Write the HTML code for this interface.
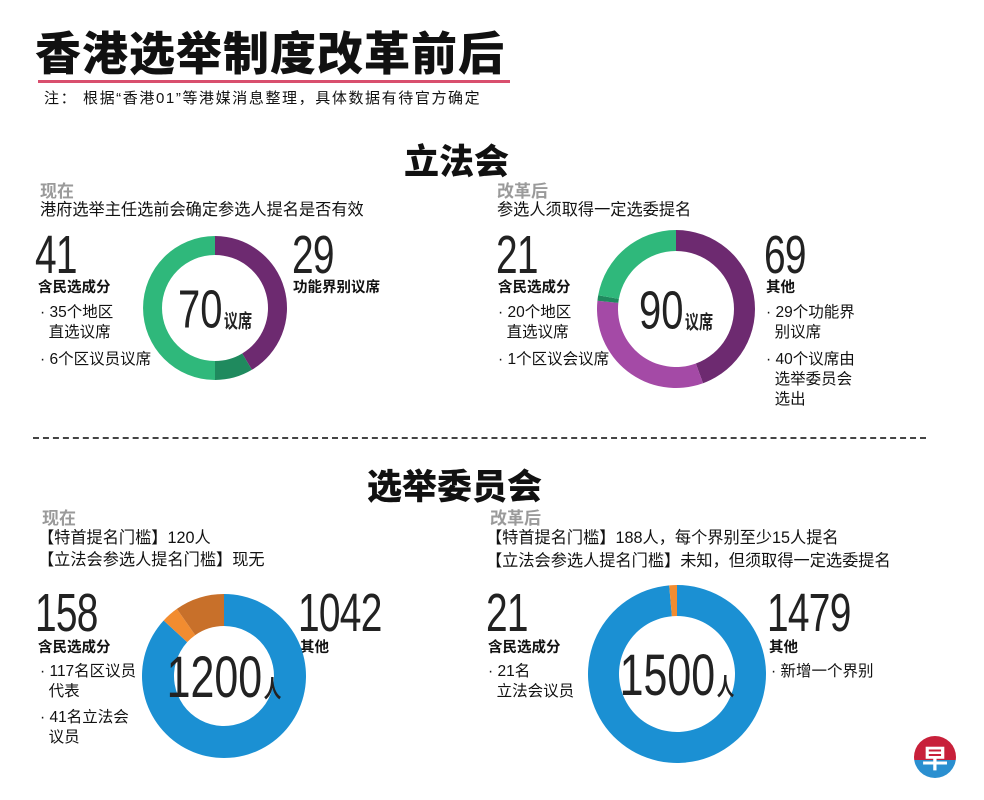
<!DOCTYPE html>
<html><head><meta charset="utf-8">
<style>
body{margin:0;background:#fff;width:984px;height:800px;overflow:hidden;position:relative;font-family:"Liberation Sans","Noto Sans CJK SC",sans-serif;color:#111}
.a{position:absolute;white-space:nowrap}
.t{font-size:15.5px;line-height:20px}
.d{font-size:16.2px;line-height:20px}
.b{font-weight:bold;font-size:14.5px}
.g{color:#9a9a9a;font-weight:bold;font-size:17px}
.n{font-size:54px;line-height:58px;font-weight:normal;transform:scaleX(0.72);transform-origin:left top;letter-spacing:-1px;color:#222}
.h{font-weight:900;font-size:35px;}
</style></head><body>
<div class="a" style="left:35px;top:18px;font-size:46px;font-weight:900;letter-spacing:1px">香港选举制度改革前后</div>
<div class="a" style="left:38px;top:80px;width:472px;height:3px;background:#d94f6e"></div>
<div class="a t" style="left:44px;top:89px;font-size:15px;letter-spacing:1.6px">注： 根据“香港01”等港媒消息整理，具体数据有待官方确定</div>

<div class="a h" style="left:404px;top:134px">立法会</div>
<div class="a g" style="left:40px;top:177px">现在</div>
<div class="a d" style="left:40px;top:200px">港府选举主任选前会确定参选人提名是否有效</div>
<div class="a n" style="left:35px;top:226px">41</div>
<div class="a b" style="left:38px;top:276px">含民选成分</div>
<div class="a t" style="left:40px;top:303px">· 35个地区<br>&nbsp;&nbsp;直选议席</div>
<div class="a t" style="left:40px;top:350px">· 6个区议员议席</div>
<div class="a n" style="left:292px;top:226px">29</div>
<div class="a b" style="left:293px;top:276px">功能界别议席</div>

<div class="a g" style="left:497px;top:177px">改革后</div>
<div class="a d" style="left:497px;top:200px">参选人须取得一定选委提名</div>
<div class="a n" style="left:496px;top:226px">21</div>
<div class="a b" style="left:498px;top:276px">含民选成分</div>
<div class="a t" style="left:498px;top:303px">· 20个地区<br>&nbsp;&nbsp;直选议席</div>
<div class="a t" style="left:498px;top:350px">· 1个区议会议席</div>
<div class="a n" style="left:764px;top:226px">69</div>
<div class="a b" style="left:766px;top:276px">其他</div>
<div class="a t" style="left:766px;top:303px">· 29个功能界<br>&nbsp;&nbsp;别议席</div>
<div class="a t" style="left:766px;top:350px">· 40个议席由<br>&nbsp;&nbsp;选举委员会<br>&nbsp;&nbsp;选出</div>

<div class="a" style="left:33px;top:437px;width:893px;border-top:2px dashed #444"></div>

<div class="a h" style="left:367px;top:459px">选举委员会</div>
<div class="a g" style="left:42px;top:504px">现在</div>
<div class="a d" style="left:38px;top:528px">【特首提名门槛】120人</div>
<div class="a d" style="left:38px;top:550px">【立法会参选人提名门槛】现无</div>
<div class="a n" style="left:35px;top:584px">158</div>
<div class="a b" style="left:38px;top:636px">含民选成分</div>
<div class="a t" style="left:40px;top:662px">· 117名区议员<br>&nbsp;&nbsp;代表</div>
<div class="a t" style="left:40px;top:708px">· 41名立法会<br>&nbsp;&nbsp;议员</div>
<div class="a n" style="left:298px;top:584px">1042</div>
<div class="a b" style="left:300px;top:636px">其他</div>

<div class="a g" style="left:490px;top:504px">改革后</div>
<div class="a d" style="left:486px;top:528px">【特首提名门槛】188人，每个界别至少15人提名</div>
<div class="a d" style="left:486px;top:551px">【立法会参选人提名门槛】未知，但须取得一定选委提名</div>
<div class="a n" style="left:486px;top:584px">21</div>
<div class="a b" style="left:488px;top:636px">含民选成分</div>
<div class="a t" style="left:488px;top:662px">· 21名<br>&nbsp;&nbsp;立法会议员</div>
<div class="a n" style="left:767px;top:584px">1479</div>
<div class="a b" style="left:769px;top:636px">其他</div>
<div class="a t" style="left:771px;top:662px">· 新增一个界别</div>

<svg class="a" id="chart" style="left:0;top:0" width="984" height="800">
  <g>
    <clipPath id="lc"><circle cx="935" cy="757" r="21"/></clipPath>
    <g clip-path="url(#lc)"><rect x="910" y="734" width="50" height="26" fill="#c8203a"/><rect x="910" y="760" width="50" height="25" fill="#2a8fd0"/></g>
    <text x="935" y="768" text-anchor="middle" font-size="26" font-weight="bold" fill="#fff" font-family="Liberation Sans, Noto Sans CJK SC, sans-serif">早</text>
  </g>
</svg>
<script>
const legcoNowValues=[29,6,35];
const legcoNowColors=["#6d2a70","#1f8a5e","#2fb87b"];
const legcoAfterValues=[40,29,1,20];
const legcoAfterColors=["#6d2a70","#a44aa6","#1f8a5e","#2fb87b"];
const ecNowValues=[1042,41,117];
const ecNowColors=["#1b90d3","#f28c30","#c8702a"];
const ecAfterValues=[1479,21];
const ecAfterColors=["#1b90d3","#f28c30"];
const centerNumbers=["70","90","1200","1500"];
const centerUnits=["议席","议席","人","人"];
const NS="http://www.w3.org/2000/svg";
const svg=document.getElementById('chart');
function arc(cx,cy,r,r0,a0,a1){
  const p=(r,a)=>[cx+r*Math.sin(a),cy-r*Math.cos(a)];
  const l=(a1-a0)>Math.PI?1:0;
  const [x1,y1]=p(r,a0),[x2,y2]=p(r,a1),[x3,y3]=p(r0,a1),[x4,y4]=p(r0,a0);
  return `M${x1} ${y1}A${r} ${r} 0 ${l} 1 ${x2} ${y2}L${x3} ${y3}A${r0} ${r0} 0 ${l} 0 ${x4} ${y4}Z`;
}
function donut(name,vals,cols,cx,cy,r,r0,num,unit,fs,ufs){
  const g=document.createElementNS(NS,'g');
  
  
  const tot=vals.reduce((a,b)=>a+b,0);
  let acc=0;
  vals.forEach((v,i)=>{
    const a0=acc/tot*2*Math.PI;acc+=v;const a1=acc/tot*2*Math.PI;
    const p=document.createElementNS(NS,'path');
    p.setAttribute('d',arc(cx,cy,r,r0,a0,a1));
    p.setAttribute('fill',cols[i]);
    
    
    g.appendChild(p);
  });
  const t=document.createElementNS(NS,'text');
  
  
  t.setAttribute('x',cx);t.setAttribute('y',cy+fs*0.36);
  t.setAttribute('text-anchor','middle');
  t.setAttribute('fill','#222');
  t.setAttribute('font-family','Liberation Sans, Noto Sans CJK SC, sans-serif');
  t.setAttribute('transform',`translate(${cx} 0) scale(0.74 1) translate(${-cx} 0)`);
  t.innerHTML=`<tspan font-size="${fs}">${num}</tspan><tspan font-size="${ufs}" font-weight="bold" dx="2">${unit}</tspan>`;
  g.appendChild(t);
  svg.appendChild(g);
}
donut('legco-now-donut',legcoNowValues,legcoNowColors,215,308,72,53,centerNumbers[0],centerUnits[0],54,19);
donut('legco-after-donut',legcoAfterValues,legcoAfterColors,676,309,79,58,centerNumbers[1],centerUnits[1],54,19);
donut('ec-now-donut',ecNowValues,ecNowColors,224,676,82,50,centerNumbers[2],centerUnits[2],58,24);
donut('ec-after-donut',ecAfterValues,ecAfterColors,677,674,89,58,centerNumbers[3],centerUnits[3],58,24);
</script>
</body></html>
